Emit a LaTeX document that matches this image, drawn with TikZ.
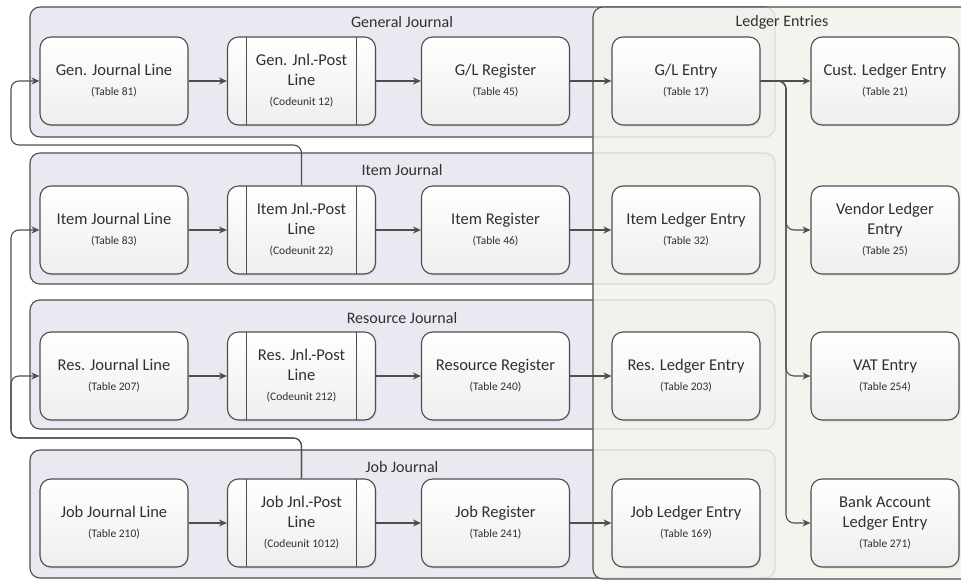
\documentclass[tikz,border=0pt]{standalone}
\usepackage{fontspec}
\setmainfont{Carlito}
\usetikzlibrary{arrows.meta,shadows}

\definecolor{edge}{RGB}{78,78,78}
\definecolor{grpfill}{RGB}{234,233,241}
\definecolor{ledfill}{RGB}{242,242,236}
\definecolor{ink}{RGB}{48,48,48}
\definecolor{boxlow}{RGB}{238,238,238}

% reference-number line under an entity name
\newcommand{\tabref}[1]{{\fontsize{11.5}{20}\selectfont #1}}

\tikzset{
  x=1pt, y=-1pt,
  grp/.style={draw=edge, line width=1.1pt, fill=grpfill, rounded corners=10pt},
  ledgrp/.style={draw=edge, line width=1.1pt, fill=ledfill, fill opacity=0.85, rounded corners=10pt},
  grplabel/.style={text=ink, font=\fontsize{16}{19}\selectfont, inner sep=0pt},
  entity/.style={draw=edge, line width=1.1pt, rounded corners=11pt,
    minimum width=148pt, minimum height=88pt, inner sep=0pt,
    top color=white, bottom color=boxlow, align=center, text=ink,
    font=\fontsize{16.5}{20}\selectfont,
    drop shadow={opacity=0.15, shadow xshift=1pt, shadow yshift=-1.5pt}},
  proc/.style={entity, path picture={
    \draw[edge, line width=1.1pt]
      ([xshift=19pt]path picture bounding box.north west) -- ([xshift=19pt]path picture bounding box.south west)
      ([xshift=-19pt]path picture bounding box.north east) -- ([xshift=-19pt]path picture bounding box.south east);}},
  conn/.style={draw=edge, line width=1.1pt, -{Stealth[length=8pt,width=7pt]}, rounded corners=8pt},
}

\begin{document}
\begin{tikzpicture}
\useasboundingbox (0,0) rectangle (961,580);
\clip (0,0) rectangle (961,580);

% journal groups
\path[grp] (30,7) rectangle (775,137);
\path[grp] (30,153) rectangle (775,284);
\path[grp] (30,300) rectangle (775,429);
\path[grp] (30,450) rectangle (775,578);
\node[grplabel] (lblgen) at (402,22) {General Journal};
\node[grplabel] (lblitem) at (402,170) {Item Journal};
\node[grplabel] (lblres) at (402,318) {Resource Journal};
\node[grplabel] (lbljob) at (402,467) {Job Journal};

% ledger entries group over the right part
\path[ledgrp] (593,7) rectangle (975,579);
\node[grplabel] (lblledger) at (782,22) {Ledger Entries};

% general journal row
\node[entity] (gjl)   at (114,81)   {Gen. Journal Line\\\tabref{(Table 81)}};
\node[proc]   (gpost) at (301.5,81) {Gen. Jnl.-Post\\Line\\\tabref{(Codeunit 12)}};
\node[entity] (glreg) at (495.5,81) {G/L Register\\\tabref{(Table 45)}};
\node[entity] (gle)   at (686,81)   {G/L Entry\\\tabref{(Table 17)}};
\node[entity] (cle)   at (885,81)   {Cust. Ledger Entry\\\tabref{(Table 21)}};

% item journal row
\node[entity] (ijl)   at (114,230)   {Item Journal Line\\\tabref{(Table 83)}};
\node[proc]   (ipost) at (301.5,230) {Item Jnl.-Post\\Line\\\tabref{(Codeunit 22)}};
\node[entity] (ireg)  at (495.5,230) {Item Register\\\tabref{(Table 46)}};
\node[entity] (ile)   at (686,230)   {Item Ledger Entry\\\tabref{(Table 32)}};
\node[entity] (vle)   at (885,230)   {Vendor Ledger\\Entry\\\tabref{(Table 25)}};

% resource journal row
\node[entity] (rjl)   at (114,376)   {Res. Journal Line\\\tabref{(Table 207)}};
\node[proc]   (rpost) at (301.5,376) {Res. Jnl.-Post\\Line\\\tabref{(Codeunit 212)}};
\node[entity] (rreg)  at (495.5,376) {Resource Register\\\tabref{(Table 240)}};
\node[entity] (rle)   at (686,376)   {Res. Ledger Entry\\\tabref{(Table 203)}};
\node[entity] (vat)   at (885,376)   {VAT Entry\\\tabref{(Table 254)}};

% job journal row
\node[entity] (jjl)   at (114,523)   {Job Journal Line\\\tabref{(Table 210)}};
\node[proc]   (jpost) at (301.5,523) {Job Jnl.-Post\\Line\\\tabref{(Codeunit 1012)}};
\node[entity] (jreg)  at (495.5,523) {Job Register\\\tabref{(Table 241)}};
\node[entity] (jle)   at (686,523)   {Job Ledger Entry\\\tabref{(Table 169)}};
\node[entity] (bale)  at (885,523)   {Bank Account\\Ledger Entry\\\tabref{(Table 271)}};

% posting flow along each row
\foreach \a/\b in {gjl/gpost, gpost/glreg, glreg/gle, gle/cle,
                   ijl/ipost, ipost/ireg, ireg/ile,
                   rjl/rpost, rpost/rreg, rreg/rle,
                   jjl/jpost, jpost/jreg, jreg/jle}
  \draw[conn] (\a) -- (\b);

% G/L entry fans out to the other ledger entries
\coordinate (split) at (786,81);
\draw[conn] (gle.east) -- (split) |- (vle.west);
\draw[conn] (gle.east) -- (split) |- (vat.west);
\draw[conn] (gle.east) -- (split) |- (bale.west);

% posting routines that create journal lines of other journals
\coordinate (loopgen) at (11,145);
\coordinate (loopjob) at (11,438);
\draw[conn] (ipost.north) |- (loopgen) |- (gjl.west);
\draw[conn] (jpost.north) |- (loopjob) |- (ijl.west);
\draw[conn] (jpost.north) |- (loopjob) |- (rjl.west);
\end{tikzpicture}
\end{document}
